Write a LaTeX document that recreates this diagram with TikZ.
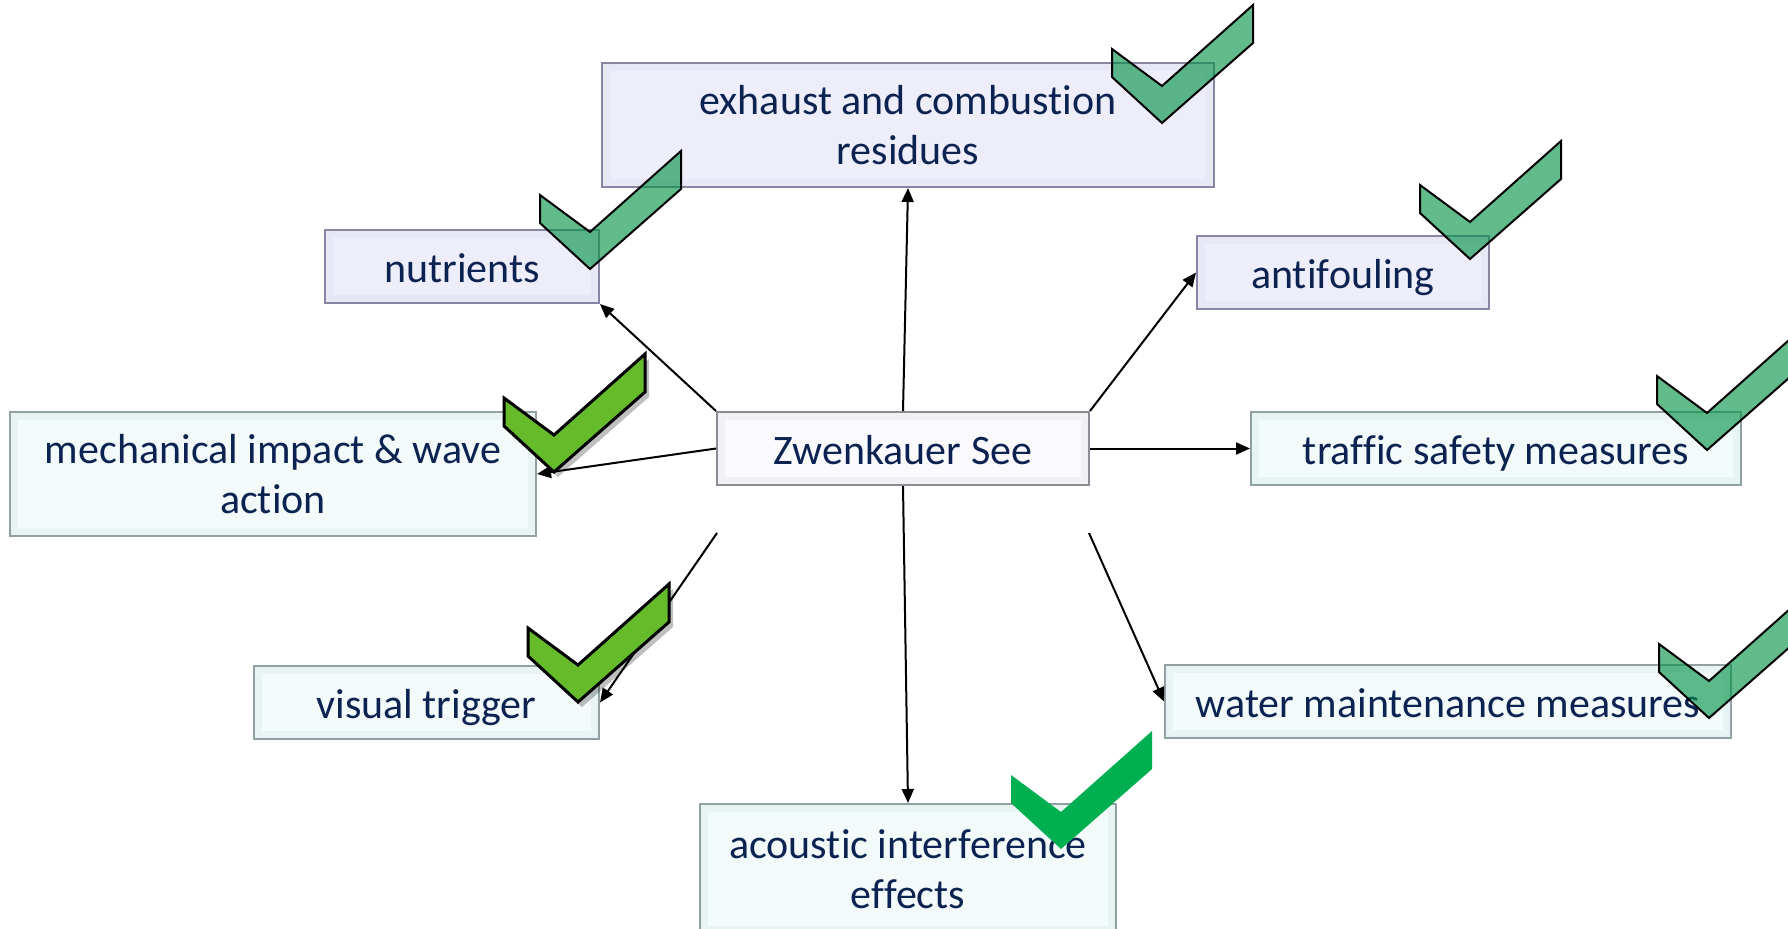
\documentclass[tikz,border=0pt]{standalone}
\usepackage{fontspec}
\setmainfont{Carlito}[Ligatures=NoCommon]
\usetikzlibrary{arrows.meta,calc}
\definecolor{txt}{RGB}{12,35,82}
\definecolor{lavfill}{RGB}{231,231,246}
\definecolor{lavin}{RGB}{238,238,250}
\definecolor{lavline}{RGB}{135,135,165}
\definecolor{whfill}{RGB}{240,240,245}
\definecolor{whin}{RGB}{250,250,253}
\definecolor{whline}{RGB}{140,140,150}
\definecolor{cyfill}{RGB}{232,243,243}
\definecolor{cyin}{RGB}{242,250,250}
\definecolor{cyline}{RGB}{145,160,160}
\definecolor{tealg}{RGB}{0,146,69}
\definecolor{limeg}{RGB}{102,187,42}
\definecolor{pureg}{RGB}{0,176,80}
\tikzset{
  boxbase/.style={rectangle, inner sep=0pt, align=center, text=txt, line width=1pt,
    font=\fontsize{21}{25}\selectfont},
  oneline/.style={text height=19pt, text depth=3pt},
  bevel/.style={path picture={\fill[#1]
      ([shift={(4pt,-4pt)}]path picture bounding box.north west) rectangle
      ([shift={(-4pt,4pt)}]path picture bounding box.south east);}},
  lavbox/.style={boxbase, fill=lavfill, draw=lavline, bevel=lavin},
  whbox/.style={boxbase, fill=whfill, draw=whline, bevel=whin},
  cybox/.style={boxbase, fill=cyfill, draw=cyline, bevel=cyin},
  conn/.style={line width=1pt, -{Triangle[length=7pt,width=6pt]}},
  tealcheck/.style={fill=tealg, fill opacity=0.62, draw=black, line width=1pt, line join=miter},
  limecheck/.style={fill=limeg, draw=black, line width=1.5pt, line join=miter},
  purecheck/.style={fill=pureg},
  checkshadow/.style={fill=black, fill opacity=0.25}
}
\newcommand{\chkpath}{(0,44) -- (0,72) -- (50,118) -- (141,38) -- (141,0) -- (50,81) -- cycle}
\begin{document}
\begin{tikzpicture}[x=0.5pt,y=-0.5pt]
\useasboundingbox (0,0) rectangle (1788,928);
\clip (0,0) rectangle (1788,928);
\fill[white] (0,0) rectangle (1788,928);

% boxes
\node[lavbox, minimum width=306pt, minimum height=62pt] (ex) at (908,125) {exhaust and combust\kern0pt ion\\residues};
\node[lavbox, oneline, minimum width=137pt, minimum height=36.5pt] (nu) at (462,266.5) {nutrients};
\node[lavbox, oneline, minimum width=146pt, minimum height=36.5pt] (af) at (1343,272.5) {antif\kern0pt ouling};
\node[cybox, minimum width=263pt, minimum height=62pt] (me) at (273,474) {mechanical impact \& wave\\act\kern0pt ion};
\node[whbox, oneline, minimum width=186pt, minimum height=36.5pt] (c) at (903,448.5) {Zwenkauer See};
\node[cybox, oneline, minimum width=245pt, minimum height=36.5pt] (tr) at (1496,448.5) {traf\kern0pt f\kern0pt ic safety measures};
\node[cybox, oneline, minimum width=172.5pt, minimum height=36.5pt] (vt) at (426.5,702.5) {visual trigger};
\node[cybox, oneline, minimum width=283pt, minimum height=36.5pt] (wm) at (1448,701.5) {water maintenance measures};
\node[cybox, minimum width=208pt, minimum height=65pt] (ac) at (908,869) {acoust\kern0pt ic interference\\ef\kern0pt fects};

% free start points
\coordinate (vs) at (717,533);
\coordinate (ws) at (1089,533);

% connectors
\draw[conn] (c.north) -- (ex.south);
\draw[conn] (c.north west) -- (nu.south east);
\draw[conn] (c.west) -- (me.east);
\draw[conn] (vs) -- (vt.east);
\draw[conn] (c.north east) -- (af.west);
\draw[conn] (c.east) -- (tr.west);
\draw[conn] (ws) -- (wm.west);
\draw[conn] (c.south) -- (ac.north);

% check marks
\draw[tealcheck, shift={(1112,5)}] \chkpath;
\draw[tealcheck, shift={(540,151)}] \chkpath;
\draw[tealcheck, shift={(1420,141)}] \chkpath;
\draw[tealcheck, shift={(1657,332)}] \chkpath;
\draw[tealcheck, shift={(1659,600)}] \chkpath;
\fill[checkshadow, shift={(508,359)}] \chkpath;
\draw[limecheck, shift={(504,354)}] \chkpath;
\fill[checkshadow, shift={(532,589)}] \chkpath;
\draw[limecheck, shift={(528,584)}] \chkpath;
\fill[purecheck, shift={(1011,731)}] \chkpath;
\end{tikzpicture}
\end{document}
